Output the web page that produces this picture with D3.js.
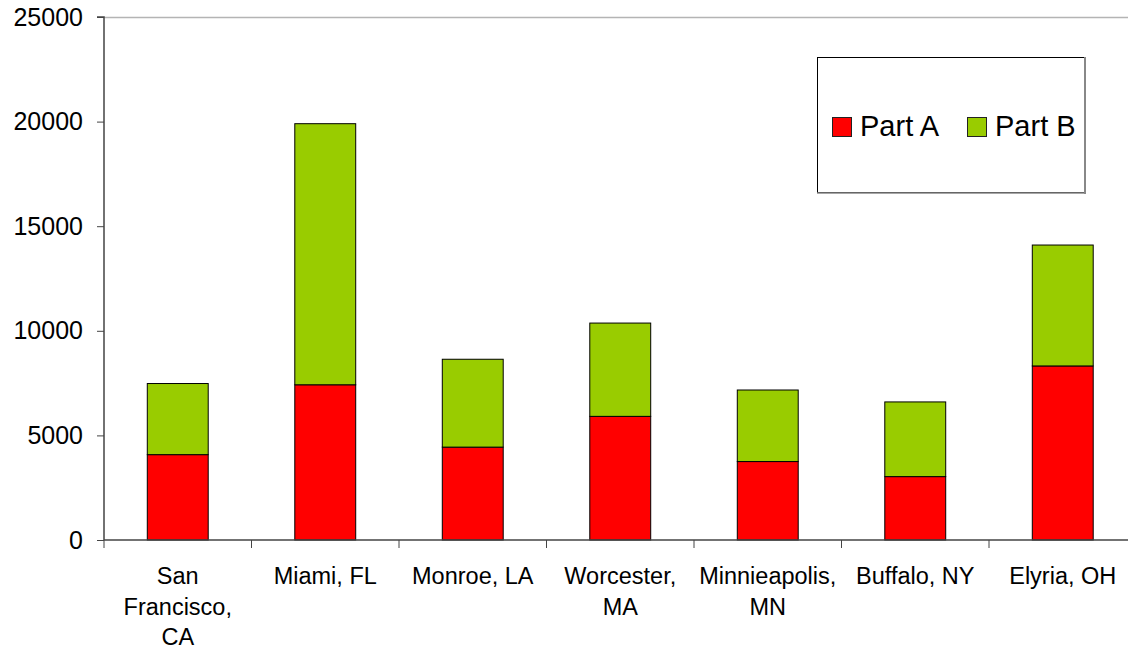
<!DOCTYPE html>
<html>
<head>
<meta charset="utf-8">
<script src="https://cdn.jsdelivr.net/npm/d3@7/dist/d3.min.js"></script>
<style>
html,body{margin:0;padding:0;background:#fff;}
svg{display:block;font-family:Arial,"Liberation Sans",sans-serif;}
</style>
</head>
<body>
<svg id="chart" width="1128" height="648"></svg>
<script>
const categories = [["San","Francisco,","CA"],["Miami, FL"],["Monroe, LA"],["Worcester,","MA"],["Minnieapolis,","MN"],["Buffalo, NY"],["Elyria, OH"]];
const seriesNames = ["Part A","Part B"];
const partA = [4080, 7420, 4440, 5910, 3750, 3030, 8320];
const partB = [3400, 12480, 4200, 4460, 3420, 3570, 5780];
const yTicks = [0, 5000, 10000, 15000, 20000, 25000];
const colors = ["#FF0000", "#99CC00"];

(function(){
const svg = d3.select("#chart");
const pLeft = 104, pTop = 17, pBottom = 540, pRight = 1136.5;
const ids = categories.map((c,i)=>i);
const x = d3.scaleBand().domain(ids).range([pLeft, pRight]).padding(0);
const y = d3.scaleLinear().domain([0, 25000]).range([pBottom, pTop]);

// top border
svg.append("line").attr("x1", pLeft).attr("x2", 1128).attr("y1", pTop + 0.5).attr("y2", pTop + 0.5)
  .attr("stroke", "#b4b4b4").attr("stroke-width", 1.5);

// stacked data
const rows = ids.map(i => ({i, a: partA[i], b: partB[i]}));
const stack = d3.stack().keys(["a","b"])(rows);
const bw = x.bandwidth() * 0.413;

stack.forEach((layer, k) => {
  svg.append("g").selectAll("rect").data(layer).enter().append("rect")
    .attr("x", d => x(d.data.i) + (x.bandwidth() - bw) / 2)
    .attr("y", d => y(d[1]))
    .attr("width", bw)
    .attr("height", d => y(d[0]) - y(d[1]))
    .attr("fill", colors[k])
    .attr("stroke", "#000").attr("stroke-width", 1);
});

// y axis
const yAxis = d3.axisLeft(y).tickValues(yTicks).tickSize(7).tickPadding(14).tickFormat(d3.format("d"));
const gy = svg.append("g").attr("transform", `translate(${pLeft},0)`).call(yAxis);
gy.select(".domain").attr("stroke", "#444").attr("stroke-width", 1.5).attr("d", `M-7,${pTop}H0V${pBottom}`);
gy.selectAll(".tick line").attr("stroke", "#444");
gy.selectAll(".tick text").attr("font-size", 25).attr("fill", "#000")
  .attr("font-family", "Arial, 'Liberation Sans', sans-serif");

// x axis
const xAxis = d3.axisBottom(x).tickValues([]).tickSize(0);
const gx = svg.append("g").attr("transform", `translate(0,${pBottom})`).call(xAxis);
gx.select(".domain").attr("stroke", "#444").attr("stroke-width", 1.5).attr("d", `M${pLeft},0H1128`);
const bounds = ids.map(i => x(i)).concat([pRight]);
gx.selectAll("line.sep").data(bounds).enter().append("line").attr("class","sep")
  .attr("x1", d => d).attr("x2", d => d).attr("y1", 0).attr("y2", 8)
  .attr("stroke", "#444").attr("stroke-width", 1);

// x labels
ids.forEach(i => {
  const t = svg.append("text").attr("text-anchor", "middle")
    .attr("font-size", 23.5).attr("fill", "#000")
    .attr("transform", `translate(${x(i) + x.bandwidth()/2},584)`);
  categories[i].forEach((line, j) => {
    t.append("tspan").attr("x", 0).attr("y", j * 30.5).text(line);
  });
});

// legend
const lg = svg.append("g");
lg.append("rect").attr("x", 817.5).attr("y", 57.5).attr("width", 267).attr("height", 135)
  .attr("fill", "#fff").attr("stroke", "#000").attr("stroke-width", 1);
lg.append("line").attr("x1", 1085).attr("x2", 1085).attr("y1", 57).attr("y2", 194).attr("stroke", "#888").attr("stroke-width", 2);
lg.append("line").attr("x1", 817).attr("x2", 1086).attr("y1", 193).attr("y2", 193).attr("stroke", "#888").attr("stroke-width", 1.5);
const legX = [832, 967];
seriesNames.forEach((n, k) => {
  lg.append("rect").attr("x", legX[k] + 0.5).attr("y", 117.5).attr("width", 19).attr("height", 19)
    .attr("fill", colors[k]).attr("stroke", "#222").attr("stroke-width", 1);
  lg.append("text").attr("x", legX[k] + 28).attr("y", 136).attr("font-size", 29).attr("fill", "#000").text(n);
});
})();
</script>
</body>
</html>
